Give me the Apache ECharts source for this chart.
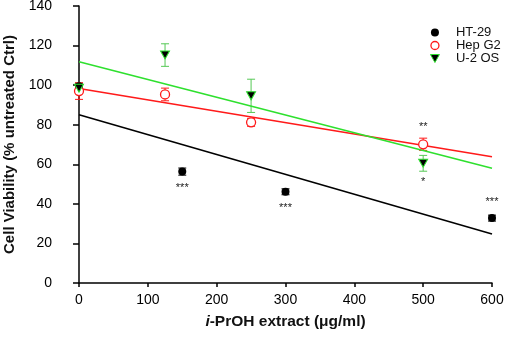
<!DOCTYPE html>
<html>
<head>
<meta charset="utf-8">
<script src="https://cdn.jsdelivr.net/npm/echarts@6/dist/echarts.min.js"></script>
<style>
html,body{margin:0;padding:0;background:#fff;}
#c{width:505px;height:337px;}
</style>
</head>
<body>
<div id="c"></div>
<script>
// ---- data ----
const seriesNames = ['HT-29', 'Hep G2', 'U-2 OS'];
const htX = [0, 150, 300, 600];
const htY = [99.5, 56.3, 46.1, 32.8];
const htErr = [1.5, 1.8, 1.5, 1.5];
const htSig = ['', '***', '***', '***'];

const hepX = [0, 125, 250, 500];
const hepY = [97, 95.3, 81.2, 70.1];
const hepErr = [4.2, 3.2, 2, 3.1];
const hepSig = ['', '', '', '**'];

const uX = [0, 125, 250, 500];
const uY = [98.4, 115.2, 94.6, 60.5];
const uErr = [1.5, 5.7, 8.4, 4];
const uSig = ['', '', '', '*'];

// regression lines (end points)
const fitX = [0, 600];
const htFit = [85, 24.8];
const hepFit = [98.3, 63.8];
const uFit = [111.8, 58];

const xTicks = [0, 100, 200, 300, 400, 500, 600];
const yTicks = [0, 20, 40, 60, 80, 100, 120, 140];

// ---- styling ----
const BLACK = '#000000', RED = '#ff1a1a', GREEN = '#2ee02e', GREEN_ERR = '#55c855';
const triPath = 'path://M0,0 L10,0 L5,9 Z';
const FONT = 'Liberation Sans';

function pts(xs, ys) { return xs.map((x, i) => [x, ys[i]]); }

function withSig(xs, ys, sig, posFor, dist) {
  return xs.map((x, i) => {
    const d = { value: [x, ys[i]] };
    if (sig[i]) {
      d.label = { show: true, formatter: sig[i], position: posFor(i), distance: dist,
        color: '#222', fontSize: 11, fontFamily: FONT };
    }
    return d;
  });
}

function errSeries(xs, ys, es, color) {
  return {
    type: 'custom',
    silent: true,
    z: 2,
    data: xs.map((x, i) => [x, ys[i] - es[i], ys[i] + es[i]]),
    renderItem: function (params, api) {
      const lo = api.coord([api.value(0), api.value(1)]);
      const hi = api.coord([api.value(0), api.value(2)]);
      const w = 4;
      const st = { stroke: color, lineWidth: 1 };
      return {
        type: 'group',
        children: [
          { type: 'line', shape: { x1: lo[0], y1: lo[1], x2: hi[0], y2: hi[1] }, style: st },
          { type: 'line', shape: { x1: lo[0] - w, y1: lo[1], x2: lo[0] + w, y2: lo[1] }, style: st },
          { type: 'line', shape: { x1: hi[0] - w, y1: hi[1], x2: hi[0] + w, y2: hi[1] }, style: st }
        ]
      };
    }
  };
}

function fitSeries(ys, color) {
  return {
    type: 'line', data: pts(fitX, ys), symbol: 'none', silent: true, z: 3,
    lineStyle: { color: color, width: 1.6 }
  };
}

const chart = echarts.init(document.getElementById('c'), null, { renderer: 'canvas' });
chart.setOption({
  animation: false,
  backgroundColor: '#ffffff',
  textStyle: { fontFamily: FONT },
  grid: { left: 79, right: 13, top: 6, bottom: 54, containLabel: false, outerBoundsMode: 'none' },
  legend: {
    orient: 'vertical',
    left: 430,
    top: 26,
    padding: 0,
    itemWidth: 32,
    itemHeight: 8,
    itemGap: 0,
    data: [
      { name: seriesNames[0], icon: 'circle', itemStyle: { color: BLACK } },
      { name: seriesNames[1], icon: 'circle', itemStyle: { color: '#fff', borderColor: RED, borderWidth: 1.3 } },
      { name: seriesNames[2], icon: triPath, itemStyle: { color: '#000', borderColor: GREEN, borderWidth: 1 } }
    ],
    textStyle: { fontSize: 13, color: '#111', fontFamily: FONT }
  },
  xAxis: {
    type: 'value', min: 0, max: 600, interval: 100, offset: 1,
    splitLine: { show: false },
    axisLine: { lineStyle: { color: '#000', width: 1.5 } },
    axisTick: { length: 4, lineStyle: { color: '#000', width: 1.5 } },
    axisLabel: { fontSize: 14, color: '#000', margin: 9, fontFamily: FONT,
      formatter: v => xTicks.includes(v) ? String(v) : '' },
    name: '{i|i}-PrOH extract (μg/ml)',
    nameLocation: 'middle',
    nameGap: 30,
    nameTextStyle: {
      fontSize: 15.5, fontWeight: 'bold', color: '#111', fontFamily: FONT,
      rich: { i: { fontSize: 15.5, fontWeight: 'bold', fontStyle: 'italic', color: '#111', fontFamily: FONT } }
    }
  },
  yAxis: {
    type: 'value', min: 0, max: 140, interval: 20, offset: 15,
    splitLine: { show: false },
    axisLine: { show: true, lineStyle: { color: '#000', width: 1.5 } },
    axisTick: { show: true, length: 6, lineStyle: { color: '#000', width: 1.5 } },
    axisLabel: { fontSize: 14, color: '#000', margin: 12, fontFamily: FONT,
      formatter: v => yTicks.includes(v) ? String(v) : '' },
    name: 'Cell Viability (% untreated Ctrl)',
    nameLocation: 'middle',
    nameGap: 45,
    nameTextStyle: { fontSize: 15, fontWeight: 'bold', color: '#111', fontFamily: FONT }
  },
  series: [
    errSeries(htX, htY, htErr, BLACK),
    errSeries(hepX, hepY, hepErr, RED),
    errSeries(uX, uY, uErr, GREEN_ERR),
    fitSeries(htFit, BLACK),
    fitSeries(hepFit, RED),
    fitSeries(uFit, GREEN),
    {
      name: seriesNames[0], type: 'scatter', z: 5,
      symbol: 'circle', symbolSize: 8,
      itemStyle: { color: BLACK, opacity: 1 },
      data: withSig(htX, htY, htSig, i => (i === 3 ? 'top' : 'bottom'), 7)
    },
    {
      name: seriesNames[1], type: 'scatter', z: 5,
      symbol: 'circle', symbolSize: 9,
      itemStyle: { color: '#fff', borderColor: RED, borderWidth: 1.3, opacity: 1 },
      data: withSig(hepX, hepY, hepSig, () => 'top', 7)
    },
    {
      name: seriesNames[2], type: 'scatter', z: 6,
      symbol: triPath, symbolSize: [9, 8],
      itemStyle: { color: '#000', borderColor: GREEN, borderWidth: 1, opacity: 1 },
      data: withSig(uX, uY, uSig, () => 'bottom', 9)
    }
  ]
});
</script>
</body>
</html>
